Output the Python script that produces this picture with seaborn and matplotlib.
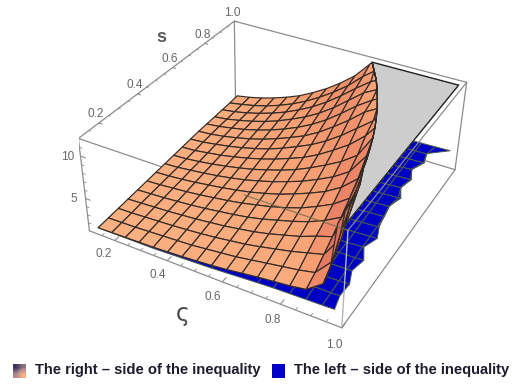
import numpy as np
import matplotlib
matplotlib.use("Agg")
import matplotlib.pyplot as plt
import seaborn as sns
from matplotlib.colors import LinearSegmentedColormap
from mpl_toolkits.mplot3d import proj3d

# surface mesh lines
sigma_vals = [0.12, 0.174, 0.2275, 0.281, 0.335, 0.389, 0.4425, 0.496, 0.55,
              0.604, 0.6575, 0.711, 0.765, 0.819, 0.8725, 0.926, 0.945, 0.98]
s_vals = [0.12, 0.174, 0.2275, 0.281, 0.335, 0.389, 0.4425, 0.496, 0.55,
          0.604, 0.6575, 0.711, 0.765, 0.819, 0.8725, 0.926, 0.98]

# right side of the inequality, one row per s value
right_z = [
    [1.2, 1.25, 1.3, 1.35, 1.4, 1.5, 1.6, 1.75, 1.9, 2.1, 2.35, 2.6, 2.8, 3.0, 3.3, 4.7, 6.8, 11.8],
    [1.3, 1.35, 1.4, 1.5, 1.6, 1.7, 1.8, 2.0, 2.2, 2.4, 2.7, 3.0, 3.3, 3.6, 4.0, 6.0, 9.3, 11.8],
    [1.4, 1.45, 1.55, 1.65, 1.75, 1.9, 2.05, 2.25, 2.5, 2.75, 3.1, 3.5, 3.9, 4.4, 4.9, 7.5, 11.2, 11.8],
    [1.5, 1.6, 1.7, 1.8, 1.95, 2.1, 2.3, 2.5, 2.8, 3.1, 3.5, 4.0, 4.5, 5.2, 5.8, 9.5, 11.8, 11.8],
    [1.6, 1.7, 1.8, 1.95, 2.1, 2.3, 2.55, 2.8, 3.1, 3.5, 4.0, 4.5, 5.1, 5.9, 6.9, 11.3, 11.8, 11.8],
    [1.7, 1.8, 1.95, 2.1, 2.3, 2.55, 2.8, 3.1, 3.5, 3.9, 4.4, 5.0, 5.8, 6.7, 8.0, 11.8, 11.8, 11.8],
    [1.8, 1.9, 2.05, 2.25, 2.5, 2.75, 3.05, 3.4, 3.85, 4.35, 5.0, 5.7, 6.5, 7.6, 9.2, 11.8, 11.8, 11.8],
    [1.9, 2.0, 2.2, 2.4, 2.65, 2.95, 3.3, 3.75, 4.25, 4.85, 5.5, 6.3, 7.2, 8.4, 10.8, 11.8, 11.8, 11.8],
    [2.0, 2.1, 2.3, 2.55, 2.85, 3.2, 3.6, 4.1, 4.65, 5.3, 6.1, 7.0, 8.0, 9.3, 11.8, 11.8, 11.8, 11.8],
    [2.1, 2.2, 2.45, 2.7, 3.05, 3.45, 3.9, 4.45, 5.1, 5.8, 6.7, 7.8, 9.0, 10.6, 11.8, 11.8, 11.8, 11.8],
    [2.2, 2.35, 2.6, 2.9, 3.25, 3.7, 4.2, 4.85, 5.6, 6.4, 7.4, 8.6, 10.0, 11.4, 11.8, 11.8, 11.8, 11.8],
    [2.3, 2.45, 2.7, 3.05, 3.45, 3.95, 4.55, 5.25, 6.0, 7.0, 8.2, 9.5, 11.0, 11.8, 11.8, 11.8, 11.8, 11.8],
    [2.35, 2.55, 2.85, 3.2, 3.65, 4.2, 4.85, 5.6, 6.5, 7.6, 8.9, 10.3, 11.5, 11.8, 11.8, 11.8, 11.8, 11.8],
    [2.4, 2.6, 2.95, 3.35, 3.85, 4.45, 5.2, 6.0, 7.0, 8.2, 9.6, 11.0, 11.8, 11.8, 11.8, 11.8, 11.8, 11.8],
    [2.45, 2.7, 3.05, 3.5, 4.05, 4.7, 5.5, 6.4, 7.5, 8.8, 10.2, 11.5, 11.8, 11.8, 11.8, 11.8, 11.8, 11.8],
    [2.5, 2.8, 3.15, 3.6, 4.2, 4.9, 5.75, 6.75, 7.9, 9.2, 10.8, 11.8, 11.8, 11.8, 11.8, 11.8, 11.8, 11.8],
    [2.6, 2.9, 3.3, 3.8, 4.4, 5.1, 6.0, 7.0, 8.2, 9.6, 11.5, 11.8, 11.8, 11.8, 11.8, 11.8, 11.8, 11.8],
]
# sigma at which the right side leaves the top of the box, per s value
clip_sigma = [0.96, 0.955, 0.948, 0.938, 0.926, 0.91, 0.897, 0.882, 0.866, 0.848,
              0.828, 0.807, 0.783, 0.757, 0.73, 0.698, 0.665]

# left side of the inequality
left_sigma = [0.12, 0.335, 0.55, 0.711, 0.765, 0.819, 0.8725, 0.926, 0.98]
left_z = [
    [1.2, 1.25, 1.55, 1.9, 2.0, 2.05, 2.1, 2.15, 2.2],
    [1.25, 1.3, 1.7, 2.05, 2.15, 2.2, 2.3, 2.3, 2.35],
    [1.3, 1.45, 1.85, 2.2, 2.3, 2.35, 2.4, 2.45, 2.5],
    [1.4, 1.55, 1.95, 2.3, 2.4, 2.5, 2.55, 2.6, 2.65],
    [1.5, 1.65, 2.05, 2.4, 2.5, 2.6, 2.7, 2.75, 2.8],
    [1.55, 1.7, 2.1, 2.45, 2.55, 2.65, 2.75, 2.85, 2.9],
    [1.65, 1.8, 2.2, 2.55, 2.65, 2.75, 2.85, 2.95, 3.0],
    [1.7, 1.85, 2.25, 2.6, 2.7, 2.8, 2.9, 3.0, 3.05],
    [1.8, 1.95, 2.35, 2.7, 2.8, 2.9, 3.0, 3.1, 3.15],
    [1.85, 2.0, 2.4, 2.75, 2.85, 2.95, 3.05, 3.15, 3.2],
    [1.95, 2.1, 2.5, 2.85, 2.95, 3.05, 3.15, 3.25, 3.3],
    [2.0, 2.15, 2.55, 2.9, 3.0, 3.1, 3.2, 3.3, 3.35],
    [2.1, 2.25, 2.65, 3.0, 3.1, 3.2, 3.3, 3.4, 3.45],
    [2.15, 2.3, 2.7, 3.05, 3.15, 3.25, 3.35, 3.45, 3.5],
    [2.25, 2.4, 2.8, 3.15, 3.25, 3.35, 3.45, 3.5, 3.55],
    [2.3, 2.45, 2.85, 3.2, 3.3, 3.4, 3.5, 3.55, 3.6],
    [2.4, 2.6, 3.0, 3.3, 3.4, 3.5, 3.55, 3.6, 3.65],
]
# ragged outer edge of the left side
left_end = [0.965, 0.955, 0.96, 0.942, 0.955, 0.93, 0.95, 0.932, 0.925, 0.918,
            0.935, 0.912, 0.925, 0.905, 0.928, 0.915, 0.98]

sigma_ticks = [0.2, 0.4, 0.6, 0.8, 1.0]
s_ticks = [0.2, 0.4, 0.6, 0.8, 1.0]
z_ticks = [5, 10]
sigma_minor = [0.15, 0.25, 0.3, 0.35, 0.45, 0.5, 0.55, 0.65, 0.7, 0.75, 0.85, 0.9, 0.95]
s_minor = [0.15, 0.25, 0.3, 0.35, 0.45, 0.5, 0.55, 0.65, 0.7, 0.75, 0.85, 0.9, 0.95]
z_minor = [2, 3, 4, 6, 7, 8, 9, 11, 12]

xmin, xmax = 0.1, 1.0
ymin, ymax = 0.1, 1.0
zmin, zmax = 1, 12
z_clip = 11.8

sns.set_theme(style="white")
plt.rcParams["font.family"] = ["Liberation Sans", "DejaVu Sans"]

W, H = 520, 388
fig = plt.figure(figsize=(W / 100, H / 100), dpi=100)
side = 394.9
ax = fig.add_axes([(276.0 - side / 2) / W, (227.4 - side / 2) / H, side / W, side / H],
                  projection="3d", computed_zorder=False)
ax.set_xlim(xmin, xmax, view_margin=0)
ax.set_ylim(ymin, ymax, view_margin=0)
ax.set_zlim(zmin, zmax, view_margin=0)
ax.set_proj_type("persp", focal_length=0.47)
ax.view_init(elev=34.0, azim=-61.72, roll=-0.88)
ax.set_box_aspect((1, 1.013, 0.393), zoom=1)
ax.set_axis_off()
ax.patch.set_alpha(0)

box_color = "#8c8c8c"
label_color = "#666666"


def tick_label(x, y, z, text):
    # flat text at the projected spot of a 3d point
    xp, yp, _ = proj3d.proj_transform(x, y, z, ax.get_proj())
    ax.text2D(xp, yp, text, transform=ax.transData, color=label_color, fontsize=8.5,
              ha="center", va="center")


# edges of the box behind the surfaces
ax.plot([xmin, xmin], [ymax, ymax], [zmin, zmax], color=box_color, lw=0.9, zorder=0)
ax.plot([xmin, xmax], [ymax, ymax], [zmin, zmin], color=box_color, lw=0.9, zorder=0)
ax.plot([xmax, xmax], [ymax, ymax], [zmin, zmax], color=box_color, lw=0.9, zorder=0)
ax.plot([xmin, xmax], [ymax, ymax], [zmax, zmax], color=box_color, lw=0.9, zorder=0)
ax.plot([xmin, xmin], [ymin, ymax], [zmax, zmax], color=box_color, lw=0.9, zorder=0)
ax.plot([xmin, xmin], [ymin, ymin], [zmin, zmax], color=box_color, lw=0.9, zorder=0)
ax.plot([xmax, xmax], [ymin, ymax], [zmin, zmin], color=box_color, lw=0.9, zorder=0)
ax.plot([xmin, xmax], [ymin, ymin], [zmin, zmin], color=box_color, lw=0.9, zorder=0)
ax.plot([xmin, xmax], [ymin, ymin], [zmax, zmax], color=box_color, lw=0.9, zorder=0)

# left side of the inequality
left_s = np.array(s_vals)
left_x = np.array([np.minimum(left_sigma, e) for e in left_end])
left_y = np.repeat(left_s[:, None], len(left_sigma), axis=1)
ax.plot_surface(left_x, left_y, np.array(left_z), color="#0000c4", shade=False,
                edgecolor="#4b5a50", linewidth=0.7, rstride=1, cstride=1, zorder=1)

# clipped cap of the right side
cap_x = np.column_stack([clip_sigma, np.full(len(clip_sigma), sigma_vals[-1])])
cap_y = np.column_stack([s_vals, s_vals])
cap_z = np.full(cap_x.shape, z_clip)
ax.plot_surface(cap_x, cap_y, cap_z, color="#cdcdcd", shade=False, edgecolor="none",
                linewidth=0, rstride=1, cstride=1, antialiased=False, zorder=2)
ax.plot([clip_sigma[-1], sigma_vals[-1]], [s_vals[-1], s_vals[-1]], [z_clip, z_clip],
        color="#222222", lw=1.0, zorder=2)
ax.plot([sigma_vals[-1], sigma_vals[-1]], [s_vals[-1], s_vals[0]], [z_clip, z_clip],
        color="#222222", lw=1.0, zorder=2)

# right side of the inequality, darker where it climbs
rz = np.array(right_z)
rx = np.array([np.minimum(sigma_vals, c) for c in clip_sigma])
ry = np.repeat(np.array(s_vals)[:, None], len(sigma_vals), axis=1)
slope = np.gradient(rz, axis=1)
slope = (slope[:-1, :-1] + slope[1:, :-1] + slope[:-1, 1:] + slope[1:, 1:]) / 4
peach = LinearSegmentedColormap.from_list("peach", ["#fbb182", "#f79f72", "#ec8568", "#dc705a"])
ax.plot_surface(rx, ry, rz, facecolors=peach(np.clip(slope / 2.6, 0, 1)), shade=False,
                edgecolor="#332a26", linewidth=0.85, rstride=1, cstride=1, zorder=3)

# front edges of the box, the near top edge shows through the surface faintly
ax.plot([0.68, xmax], [ymin, ymin], [zmax, zmax], color="#6b6b50", lw=0.9, alpha=0.8, zorder=4)
ax.plot([xmax, xmax], [ymin, ymin], [zmin, zmax], color="#b5b5b5", lw=1.0, zorder=4)
ax.plot([xmax, xmax], [ymin, ymax], [zmax, zmax], color=box_color, lw=0.9, zorder=4)

# ticks and their labels
for v in sigma_ticks:
    ax.plot([v, v], [ymin, ymin + 0.022], [zmin, zmin], color=box_color, lw=0.8, zorder=4)
    tick_label(v + 0.012, ymin - 0.07, zmin, f"{v:.1f}")
for v in sigma_minor:
    ax.plot([v, v], [ymin, ymin + 0.012], [zmin, zmin], color=box_color, lw=0.6, zorder=4)
for v in s_ticks:
    ax.plot([xmin, xmin + 0.012], [v, v], [zmax, zmax], color=box_color, lw=0.8, zorder=4)
    tick_label(xmin - 0.008, v, zmax + 0.95, f"{v:.1f}")
for v in s_minor:
    ax.plot([xmin, xmin + 0.007], [v, v], [zmax, zmax], color=box_color, lw=0.6, zorder=4)
for v in z_ticks:
    ax.plot([xmin, xmin + 0.018], [ymin, ymin], [v, v], color=box_color, lw=0.8, zorder=4)
    tick_label(xmin - 0.03, ymin - 0.022, v, f"{v}")
for v in z_minor:
    ax.plot([xmin, xmin + 0.01], [ymin, ymin], [v, v], color=box_color, lw=0.6, zorder=4)

fig.text(161 / W, 1 - 38 / H, "s", color="#5a5a5a", fontsize=13, fontweight="bold",
         ha="center", va="center")
fig.text(183 / W, 1 - 314 / H, "\u03c2", color="#4a4a4a", fontsize=17, family="DejaVu Sans",
         ha="center", va="center")

# legend swatches and text
swatch = np.array([[0.0, 0.35], [0.5, 1.0]])
swatch_map = LinearSegmentedColormap.from_list("sw", ["#3a3560", "#b08a90", "#fbb182"])
sw1 = fig.add_axes([13 / W, 1 - 378 / H, 13 / W, 14 / H])
sw1.imshow(swatch, cmap=swatch_map, aspect="auto", interpolation="bilinear", vmin=0, vmax=1)
sw1.set_axis_off()
sw2 = fig.add_axes([272 / W, 1 - 378 / H, 13 / W, 14 / H])
sw2.set_facecolor("#0000c8")
sw2.set_xticks([])
sw2.set_yticks([])
for spine in sw2.spines.values():
    spine.set_visible(False)
fig.text(35 / W, 1 - 370 / H, "The right \u2013 side of the inequality", color="#1c1c2c",
         fontsize=10.65, fontweight="bold", va="center")
fig.text(294 / W, 1 - 370 / H, "The left \u2013 side of the inequality", color="#1c1c2c",
         fontsize=10.65, fontweight="bold", va="center")

fig.savefig("out.png", dpi=100)
